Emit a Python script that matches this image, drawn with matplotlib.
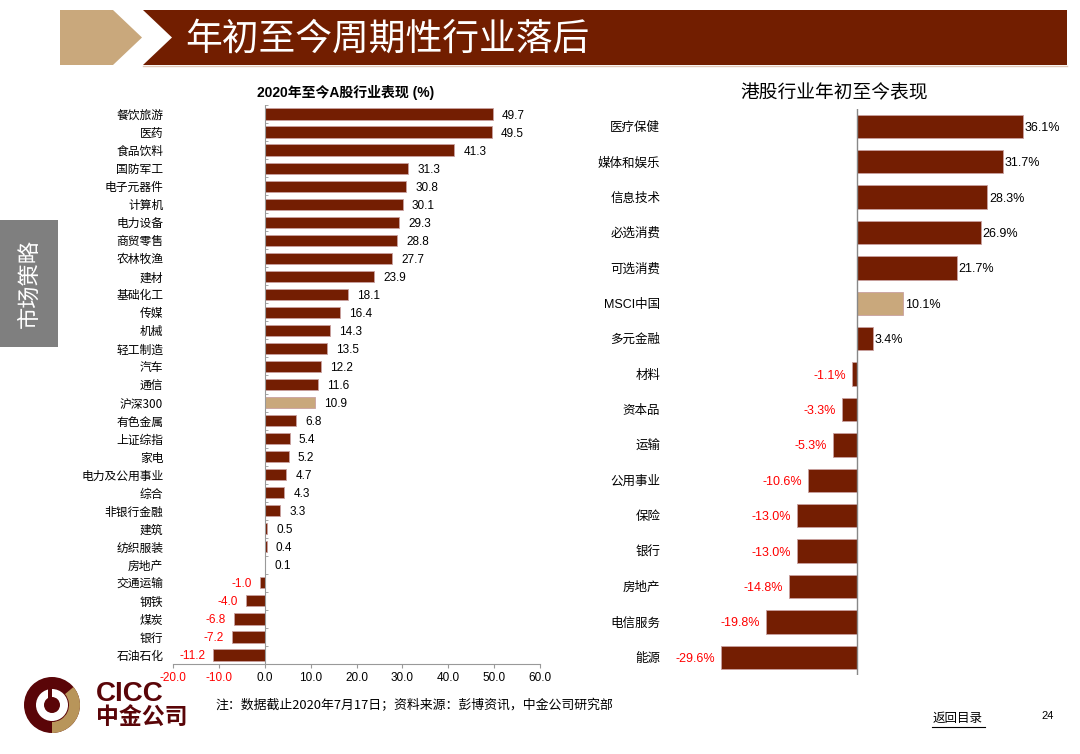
import numpy as np
import matplotlib
matplotlib.use('Agg')
import matplotlib.pyplot as plt
from matplotlib.patches import Polygon, Rectangle, Circle, Wedge

plt.rcParams['font.family'] = ['Liberation Sans', 'Noto Sans CJK SC', 'DejaVu Sans']

DARK = '#741E02'
TAN = '#C9A87C'
RED = '#FF0000'

# A股行业表现 (%)
a_names = ['餐饮旅游', '医药', '食品饮料', '国防军工', '电子元器件', '计算机', '电力设备',
           '商贸零售', '农林牧渔', '建材', '基础化工', '传媒', '机械', '轻工制造', '汽车',
           '通信', '沪深300', '有色金属', '上证综指', '家电', '电力及公用事业', '综合',
           '非银行金融', '建筑', '纺织服装', '房地产', '交通运输', '钢铁', '煤炭', '银行', '石油石化']
a_vals = [49.7, 49.5, 41.3, 31.3, 30.8, 30.1, 29.3, 28.8, 27.7, 23.9, 18.1, 16.4, 14.3, 13.5,
          12.2, 11.6, 10.9, 6.8, 5.4, 5.2, 4.7, 4.3, 3.3, 0.5, 0.4, 0.1, -1.0, -4.0, -6.8, -7.2, -11.2]
a_ticks = [-20, -10, 0, 10, 20, 30, 40, 50, 60]

# 港股行业年初至今表现 (%)
h_names = ['医疗保健', '媒体和娱乐', '信息技术', '必选消费', '可选消费', 'MSCI中国', '多元金融',
           '材料', '资本品', '运输', '公用事业', '保险', '银行', '房地产', '电信服务', '能源']
h_vals = [36.1, 31.7, 28.3, 26.9, 21.7, 10.1, 3.4, -1.1, -3.3, -5.3, -10.6, -13.0, -13.0,
          -14.8, -19.8, -29.6]

W, H = 1080, 754
fig = plt.figure(figsize=(W / 100, H / 100), dpi=100)

# ---- decoration layer (pixel coords) ----
bg = fig.add_axes([0, 0, 1, 1])
bg.set_xlim(0, W)
bg.set_ylim(H, 0)
bg.axis('off')
bg.add_patch(Polygon([[60, 10], [113, 10], [142, 37.5], [113, 65], [60, 65]], closed=True,
                     facecolor=TAN, edgecolor='none'))
bg.add_patch(Polygon([[143, 10], [1067, 10], [1067, 65], [143, 65], [172, 37.5]], closed=True,
                     facecolor='#721E00', edgecolor='none'))
bg.plot([143, 1067], [66, 66], color='#E0C8B8', lw=1)
bg.text(185, 39, '年初至今周期性行业落后', color='white', fontsize=26.5,
        family=['Noto Sans CJK SC'], va='center', ha='left')

bg.add_patch(Rectangle((0, 220), 58, 127, facecolor='#7F7F7F', edgecolor='none'))
bg.text(29, 283, '市场策略', color='white', fontsize=16, rotation=90,
        family=['Noto Sans CJK SC'], va='center', ha='center')

# logo
cx, cy = 52, 705
bg.add_patch(Circle((cx, cy), 28, facecolor='#5A0508', edgecolor='none'))
bg.add_patch(Wedge((cx, cy), 28, -40, 90, width=11, facecolor='#B8955A', edgecolor='none'))
bg.add_patch(Circle((cx, cy), 16, facecolor='white', edgecolor='none'))
bg.add_patch(Circle((cx, cy), 8, facecolor='#5A0508', edgecolor='none'))
bg.add_patch(Rectangle((cx - 4, cy - 17), 4, 12, facecolor='#5A0508', edgecolor='none'))
bg.text(96, 694, 'CICC', color='#5A0508', fontsize=20, fontweight='bold',
        va='center', ha='left')
bg.text(96, 717, '中金公司', color='#5A0508', fontsize=16.5, fontweight='bold',
        family=['Noto Sans CJK SC'], va='center', ha='left')

bg.text(215, 706, '注：数据截止2020年7月17日；资料来源：彭博资讯，中金公司研究部',
        fontsize=9.3, family=['Noto Sans CJK SC'], va='center', ha='left')
bg.text(958, 718, '返回目录', fontsize=9, family=['Noto Sans CJK SC'],
        va='center', ha='center')
bg.plot([932, 985], [727, 727], color='black', lw=0.8)
bg.text(1048, 716, '24', fontsize=8, va='center', ha='center')

# ---- left chart ----
ax = fig.add_axes([173 / W, 1 - 664 / H, (540 - 173) / W, (664 - 105) / H])
y = np.arange(len(a_names))
cols = [TAN if n == '沪深300' else DARK for n in a_names]
ax.barh(y, a_vals, height=0.62, color=cols, edgecolor='#C9A0A0', linewidth=0.6)
ax.set_xlim(-20, 60)
ax.set_ylim(len(a_names) - 0.5, -0.5)
ax.set_yticks(y)
ax.set_yticklabels(a_names, fontsize=8.5, family=['Noto Sans CJK SC'])
ax.tick_params(axis='y', length=0, pad=7)
ax.set_xticks(a_ticks)
ax.set_xticklabels(['%.1f' % t for t in a_ticks], fontsize=8.5)
for lab, t in zip(ax.get_xticklabels(), a_ticks):
    if t < 0:
        lab.set_color(RED)
ax.tick_params(axis='x', length=3, pad=3, color='#999999', width=0.8)
for s in ['top', 'right', 'left']:
    ax.spines[s].set_visible(False)
ax.spines['bottom'].set_color('#999999')
ax.axvline(0, color='#999999', lw=0.8)
ax.hlines(np.arange(len(a_names) + 1) - 0.5, 0, 0.8, color='#999999', lw=0.6)
for yi, v in zip(y, a_vals):
    if v >= 0:
        ax.text(v + 2.0, yi, '%.1f' % v, fontsize=8.5, va='center_baseline', ha='left')
    else:
        ax.text(v - 1.8, yi, '%.1f' % v, fontsize=8.5, va='center_baseline', ha='right',
                color=RED)
fig.text(346 / W, 1 - 92 / H, '2020年至今A股行业表现 (%)', fontsize=10, fontweight='bold',
         family=['Liberation Sans', 'Noto Sans CJK SC'], ha='center', va='center')

# ---- right chart ----
scale = 166 / 36.1
ax2 = fig.add_axes([670 / W, 1 - 675 / H, 370 / W, (675 - 108.6) / H])
y2 = np.arange(len(h_names))
cols2 = [TAN if n == 'MSCI中国' else DARK for n in h_names]
ax2.barh(y2, h_vals, height=0.66, color=cols2, edgecolor='#C9A0A0', linewidth=0.6)
ax2.set_xlim((670 - 857) / scale, (1040 - 857) / scale)
ax2.set_ylim(len(h_names) - 0.5, -0.5)
ax2.set_yticks(y2)
ax2.set_yticklabels(h_names, fontsize=9, family=['Liberation Sans', 'Noto Sans CJK SC'])
ax2.tick_params(axis='y', length=0, pad=7)
ax2.set_xticks([])
for s in ['top', 'right', 'left', 'bottom']:
    ax2.spines[s].set_visible(False)
ax2.axvline(0, color='#888888', lw=1)
for yi, v in zip(y2, h_vals):
    if v >= 0:
        ax2.text(v + 0.4, yi, '%.1f%%' % v, fontsize=9, va='center_baseline', ha='left')
    else:
        ax2.text(v - 1.3, yi, '%.1f%%' % v, fontsize=9, va='center_baseline', ha='right',
                 color=RED)
fig.text(834 / W, 1 - 93 / H, '港股行业年初至今表现', fontsize=13.5,
         family=['Noto Sans CJK SC'], ha='center', va='center')

fig.savefig('out.png', dpi=100)
